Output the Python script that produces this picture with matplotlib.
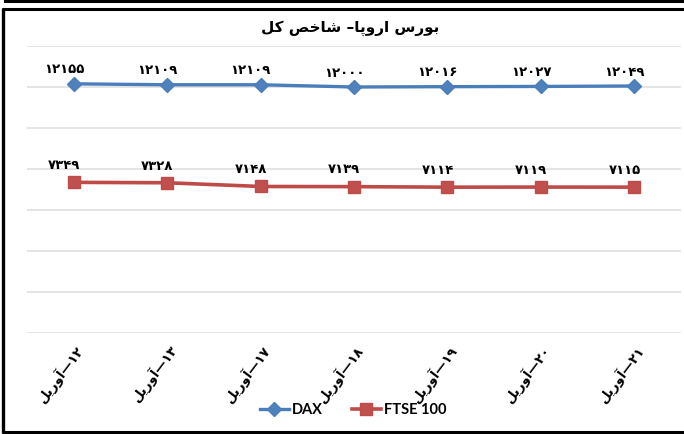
import matplotlib
matplotlib.use("Agg")
import matplotlib.pyplot as plt
from matplotlib.lines import Line2D

# ---------------- data ----------------
days = [12, 13, 17, 18, 19, 20, 21]
month = "آوریل"
dax = [12155, 12109, 12109, 12000, 12016, 12027, 12049]
ftse = [7349, 7328, 7148, 7139, 7114, 7119, 7115]
series_names = ["DAX", "FTSE 100"]
title = "بورس اروپا– شاخص کل"

# ---------------- minimal Persian shaping ----------------
FORMS = {  # iso, fin, ini, med
    "ا": ("\uFE8D", "\uFE8E", None, None),
    "آ": ("\uFE81", "\uFE82", None, None),
    "ب": ("\uFE8F", "\uFE90", "\uFE91", "\uFE92"),
    "پ": ("\uFB56", "\uFB57", "\uFB58", "\uFB59"),
    "و": ("\uFEED", "\uFEEE", None, None),
    "ر": ("\uFEAD", "\uFEAE", None, None),
    "س": ("\uFEB1", "\uFEB2", "\uFEB3", "\uFEB4"),
    "ش": ("\uFEB5", "\uFEB6", "\uFEB7", "\uFEB8"),
    "خ": ("\uFEA5", "\uFEA6", "\uFEA7", "\uFEA8"),
    "ص": ("\uFEB9", "\uFEBA", "\uFEBB", "\uFEBC"),
    "ک": ("\uFB8E", "\uFB8F", "\uFB90", "\uFB91"),
    "ل": ("\uFEDD", "\uFEDE", "\uFEDF", "\uFEE0"),
    "ی": ("\uFBFC", "\uFBFD", "\uFBFE", "\uFBFF"),
}


def dual(c):
    return c in FORMS and FORMS[c][2] is not None


def shape(s):
    out = []
    for i, c in enumerate(s):
        if c not in FORMS:
            out.append(c)
            continue
        prev = s[i - 1] if i > 0 else ""
        nxt = s[i + 1] if i + 1 < len(s) else ""
        jp = dual(prev)
        jn = dual(c) and nxt in FORMS
        iso, fin, ini, med = FORMS[c]
        if jp and jn:
            out.append(med)
        elif jp:
            out.append(fin)
        elif jn:
            out.append(ini)
        else:
            out.append(iso)
    return "".join(out)


PDIG = str.maketrans("0123456789", "۰۱۲۳۴۵۶۷۸۹")


def visual(s):
    s = shape(s)
    r = s[::-1]
    res, run = [], []
    for c in r:
        if c.isdigit():
            run.append(c)
        else:
            if run:
                res.extend(run[::-1])
                run = []
            res.append(c)
    if run:
        res.extend(run[::-1])
    return "".join(res)


def fa_num(v):
    return str(v).translate(PDIG)


# ---------------- figure ----------------
W, H = 684, 434
fig = plt.figure(figsize=(W / 100, H / 100), dpi=100)
fig.patch.set_facecolor("white")

L, R, T, B = 27, 681, 46, 333
ax = fig.add_axes([L / W, 1 - B / H, (R - L) / W, (B - T) / H])

x = list(range(len(days)))
blue_line, blue_mark = "#4A7EBB", "#4F81BD"
red_line, red_mark = "#BE4B48", "#C0504D"

l1, = ax.plot(x, dax, color=blue_line, lw=2.4, marker="D", ms=7,
              mfc=blue_mark, mec=blue_line, zorder=3)
l2, = ax.plot(x, ftse, color=red_line, lw=2.6, marker="s", ms=8.5,
              mfc=red_mark, mec=red_line, zorder=3)

lab_font = dict(family="DejaVu Sans", weight="bold", fontsize=9.5)
for xi, v in zip(x, dax):
    ax.annotate(fa_num(v), (xi, v), xytext=(-7, 10), textcoords="offset points",
                ha="center", va="center", **lab_font)
for xi, v in zip(x, ftse):
    ax.annotate(fa_num(v), (xi, v), xytext=(-7, 12), textcoords="offset points",
                ha="center", va="center", **lab_font)

ax.set_xlim(-0.5, len(days) - 0.5)
ax.set_ylim(0, 14000)
ax.set_yticks(range(0, 14001, 2000))
ax.yaxis.grid(True, color="#DCDCDC", lw=1.1)
ax.set_axisbelow(True)
ax.tick_params(axis="y", left=False, labelleft=False)
ax.tick_params(axis="x", length=0, pad=7)
for sp in ax.spines.values():
    sp.set_visible(False)

ax.set_xticks(x)
ax.set_xticklabels([visual(f"{fa_num(d)}—{month}") for d in days],
                   rotation=53, ha="right", va="top", rotation_mode="anchor",
                   family="DejaVu Sans", weight="bold", fontsize=9.5)

fig.text(350 / W, 1 - 28 / H, visual(title), ha="center", va="center",
         family="DejaVu Sans", weight="bold", fontsize=11)

leg = fig.legend([l1, l2], series_names, loc="center", ncol=2,
                 bbox_to_anchor=(353 / W, 1 - 410 / H), frameon=False,
                 prop=dict(family="Lato", weight="bold", size=10.5),
                 handlelength=2.0, handletextpad=0.2, columnspacing=2.0)


# ---------------- frames ----------------
def hline(y, x0, x1, lw):
    fig.add_artist(Line2D([x0 / W, x1 / W], [1 - y / H, 1 - y / H],
                          transform=fig.transFigure, color="black", lw=lw,
                          solid_capstyle="butt"))


def vline(xp, y0, y1, lw):
    fig.add_artist(Line2D([xp / W, xp / W], [1 - y0 / H, 1 - y1 / H],
                          transform=fig.transFigure, color="black", lw=lw,
                          solid_capstyle="butt"))


hline(1.3, 4, W, 2.2)
vline(5, 0, 3, 1.5)
hline(8.7, 2, W, 2.2)
vline(3.2, 7.5, 433, 2.4)
hline(432, 2, W, 2.2)

fig.savefig("out.png", dpi=100)
